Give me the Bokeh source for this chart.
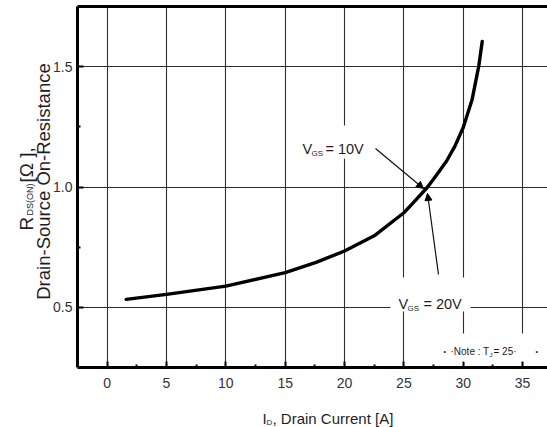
import math
from bokeh.plotting import figure
from bokeh.models import (Label, Arrow, NormalHead, BoxAnnotation, FixedTicker,
                          LinearAxis, Range1d)
from bokeh.embed import file_html
from bokeh.resources import INLINE

# ---- data ----
drain_current = [1.6, 5.0, 10.0, 15.0, 17.6, 20.0, 22.5, 25.0, 25.8, 27.0, 27.8, 28.6, 29.3, 30.0, 30.75, 31.3, 31.6]
r_ds_on = [0.533, 0.554, 0.588, 0.644, 0.687, 0.734, 0.797, 0.893, 0.935, 1.000, 1.053, 1.108, 1.170, 1.247, 1.364, 1.500, 1.605]

x_ticks = [0, 5, 10, 15, 20, 25, 30, 35]
x_tick_labels = ["0", "5", "10", "15", "20", "25", "30", "35"]
x_minor = [2.5, 7.5, 12.5, 17.5, 22.5, 27.5, 32.5]
y_ticks = [0.5, 1.0, 1.5]
y_tick_labels = ["0.5", "1.0", "1.5"]
y_minor = [0.75, 1.25]

# ---- layout ----
W, H = 547, 427
FL, FT, FB = 77, 6, 367          # plot box left / top / bottom in pixels
XS, XE = -2.5, 37.1              # plot box data extent
YS, YE = 0.25, 1.75
KX = (XE - XS) / (W - FL)
KY = (YE - YS) / (FB - FT)

def dx(px):
    return XS + (px - FL) * KX

def dy(py):
    return YE - (py - FT) * KY

REG = "Liberation Sans"
TXT = "#1e1e1e"

# the frame covers the whole canvas; axes are pinned at the plot box edges
p = figure(width=W, height=H, output_backend="svg", toolbar_location=None,
           x_range=Range1d(dx(0), dx(W)), y_range=Range1d(dy(H), dy(0)),
           min_border=0)
p.outline_line_color = None
p.background_fill_color = "white"
p.border_fill_color = "white"

xt = FixedTicker(ticks=x_ticks, minor_ticks=x_minor)
yt = FixedTicker(ticks=y_ticks, minor_ticks=y_minor)

xa, ya = p.xaxis[0], p.yaxis[0]
xa.fixed_location = YS
ya.fixed_location = XS
xa.bounds = (XS, XE)
ya.bounds = (YS, YE)
for ax, tk, labs in ((xa, xt, x_tick_labels), (ya, yt, y_tick_labels)):
    ax.ticker = tk
    ax.major_label_overrides = {t: l for t, l in zip(tk.ticks, labs)}
    ax.axis_line_width = 3
    ax.axis_line_color = "black"
    ax.major_tick_in = 6
    ax.major_tick_out = 0
    ax.minor_tick_in = 3
    ax.minor_tick_out = 0
    ax.major_tick_line_width = 2
    ax.minor_tick_line_width = 2
    ax.major_tick_line_color = "black"
    ax.minor_tick_line_color = "black"
    ax.major_label_text_font = REG
    ax.major_label_text_font_size = "14px"
    ax.major_label_text_color = "#333333"
xa.major_label_standoff = 10
ya.major_label_standoff = 5

top_axis = LinearAxis(ticker=FixedTicker(ticks=[]), fixed_location=YE, bounds=(XS, XE),
                      axis_line_width=3, axis_line_color="black",
                      major_label_standoff=0, major_tick_out=0, minor_tick_out=0,
                      major_label_text_font_size="0px")
p.add_layout(top_axis, "above")

# grid lines limited to the plot box
GRID_C, GRID_W = "#2e2e2e", 1.1
p.xgrid.ticker = xt
p.ygrid.ticker = yt
if "cross_bounds" in p.xgrid[0].properties():
    p.xgrid[0].cross_bounds = (YS, YE)
    p.ygrid[0].cross_bounds = (XS, XE)
    for g in (p.xgrid[0], p.ygrid[0]):
        g.grid_line_color = GRID_C
        g.grid_line_width = GRID_W
else:
    p.xgrid.visible = False
    p.ygrid.visible = False
    p.segment(x0=x_ticks, y0=[YS] * len(x_ticks), x1=x_ticks, y1=[YE] * len(x_ticks),
              line_color=GRID_C, line_width=GRID_W)
    p.segment(x0=[XS] * len(y_ticks), y0=y_ticks, x1=[XE] * len(y_ticks), y1=y_ticks,
              line_color=GRID_C, line_width=GRID_W)

# ---- curve ----
p.line(drain_current, r_ds_on, line_width=3.4, line_color="black",
       line_join="round", line_cap="round")

# ---- white label backgrounds ----
for (l, r, t, b) in ((296, 372, 125, 158), (390, 470, 277, 311), (436, 547, 333, 361)):
    p.add_layout(BoxAnnotation(left=dx(l), right=dx(r), top=dy(t), bottom=dy(b),
                               fill_color="white", fill_alpha=1.0,
                               line_color=None, level="annotation"))

def lab(px, py, text, size, angle=0.0, align="left"):
    p.add_layout(Label(x=dx(px), y=dy(py), text=text, angle=angle,
                       text_font=REG, text_font_size=f"{size}px",
                       text_color=TXT, text_align=align,
                       text_baseline="alphabetic"))

# V_GS = 10V
lab(302, 148, "V", 14.5)
lab(311, 153, "GS", 8)
lab(325, 148, "= 10V", 14.5)
# V_GS = 20V
lab(398, 303, "V", 14.5)
lab(407, 308, "GS", 8)
lab(423, 303, "= 20V", 14.5)

# arrows
p.add_layout(Arrow(end=NormalHead(size=7, fill_color="black", line_color="black"),
                   x_start=dx(375), y_start=dy(148), x_end=dx(423), y_end=dy(188),
                   line_width=1.2, line_color="#111111"))
p.add_layout(Arrow(end=NormalHead(size=7, fill_color="black", line_color="black"),
                   x_start=dx(438), y_start=dy(274), x_end=dx(427), y_end=dy(193),
                   line_width=1.2, line_color="#111111"))

# note
lab(443, 351, "•", 7)
lab(450, 351, "·Note : T", 10)
lab(489, 354, "J", 6)
lab(493, 351, "= 25·", 10)
lab(535, 351, "•", 7)

# x axis title
lab(262, 418, "I", 15)
lab(266, 422, "D", 8)
lab(272, 418, ", Drain Current [A]", 15)

# y axis title (rotated)
ang = math.pi / 2
lab(43, 181, "Drain-Source On-Resistance", 18.5, angle=ang, align="center")
lab(26, 230, "R", 19, angle=ang)
lab(29, 215, "DS(ON)", 9, angle=ang)
lab(26, 182, "[Ω  ],", 19, angle=ang)

open("out.html", "w").write(file_html(p, INLINE))
